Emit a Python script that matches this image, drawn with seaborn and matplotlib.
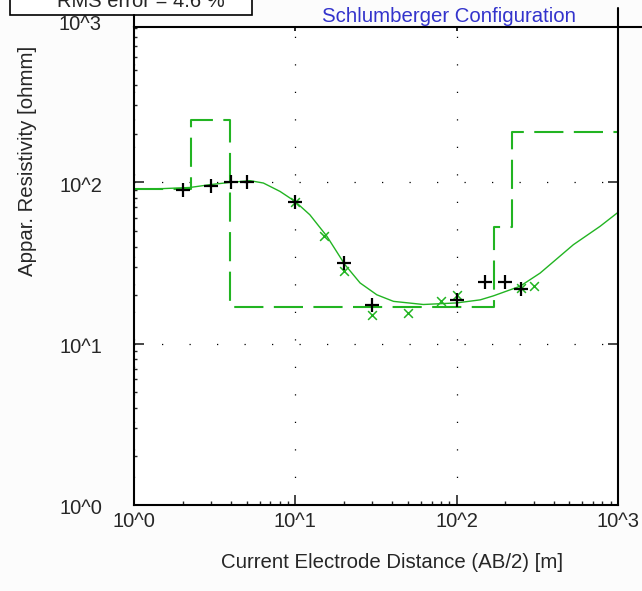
import numpy as np
import pandas as pd
import matplotlib
matplotlib.use("Agg")
import matplotlib.pyplot as plt
import seaborn as sns
from matplotlib.lines import Line2D
from matplotlib.patches import Rectangle
from matplotlib.ticker import LogLocator, NullFormatter
from matplotlib.transforms import ScaledTranslation

# measured data (AB/2 [m], apparent resistivity [ohmm])
obs_ab2 = [2, 3, 4, 5, 10, 20, 30, 100, 150, 200, 250]
obs_rho = [90, 95, 100, 100, 76, 31.7, 17.3, 18.7, 24.1, 24.1, 21.9]

calc_ab2 = [10, 15, 20, 30, 50, 80, 100, 250, 300]
calc_rho = [76, 46.7, 28.1, 15.1, 15.5, 18.3, 20.1, 22.2, 22.7]

# model response curve
curve_ab2 = [1, 1.5, 2.22, 3, 3.94, 5.24, 6.34, 8.04, 9.95, 12.3, 15.7, 20.3, 25.2,
             32.0, 40.6, 62.2, 100, 140, 169, 247, 329, 529, 774, 1000]
curve_rho = [91, 91.5, 93, 97, 100, 102.5, 99.1, 87.9, 76.3, 63.0, 46.3, 30.9, 23.8,
             20.1, 18.3, 17.5, 17.9, 18.7, 19.8, 22.7, 27.4, 41.1, 53.4, 65.2]

# layered model
layer_rho = [91, 245, 17.0, 52.6, 205]
layer_bounds = [2.26, 3.94, 171, 221]

xticks = [1, 10, 100, 1000]
xtick_labels = ["10^0", "10^1", "10^2", "10^3"]
yticks = [1, 10, 100]
ytick_labels = ["10^0", "10^1", "10^2"]

green = "#22b422"

sns.set_style("white")
plt.rcParams['font.family'] = ['Liberation Sans', 'DejaVu Sans']

W, H = 642, 591
fig = plt.figure(figsize=(W / 100, H / 100), dpi=100, facecolor="#fcfcfc")
ax = fig.add_axes([134 / W, 1 - 505 / H, (618 - 134) / W, (505 - 27) / H])
ax.set_facecolor("white")

# step model line
step_x, step_y = [1], [layer_rho[0]]
for b, r0, r1 in zip(layer_bounds, layer_rho[:-1], layer_rho[1:]):
    step_x += [b, b]
    step_y += [r0, r1]
step_x.append(1000)
step_y.append(layer_rho[-1])
model_df = pd.DataFrame({"ab2": step_x, "rho": step_y})

curve_df = pd.DataFrame({"ab2": curve_ab2, "rho": curve_rho})

sns.lineplot(data=curve_df, x="ab2", y="rho", ax=ax, color=green, linewidth=1.0,
             sort=False, estimator=None)
sns.lineplot(data=model_df, x="ab2", y="rho", ax=ax, color=green, linewidth=1.5,
             sort=False, estimator=None, linestyle=(0, (14, 5)))
sns.scatterplot(x=calc_ab2, y=calc_rho, ax=ax, marker="x", s=40, color=green,
                linewidth=1.1, zorder=4)
sns.scatterplot(x=obs_ab2, y=obs_rho, ax=ax, marker="+", s=90, color="black",
                linewidth=1.6, zorder=5)

ax.set_xscale("log")
ax.set_yscale("log")
ytop = 10 ** ((505 - 27) / 161.3)
ax.set_xlim(1, 1000)
ax.set_ylim(1, ytop)

ax.set_xticks(xticks)
ax.set_xticklabels(xtick_labels)
ax.set_yticks(yticks)
ax.set_yticklabels(ytick_labels)
ax.xaxis.set_minor_locator(LogLocator(base=10, subs=np.arange(2, 10)))
ax.yaxis.set_minor_locator(LogLocator(base=10, subs=np.arange(2, 10)))
ax.xaxis.set_minor_formatter(NullFormatter())
ax.yaxis.set_minor_formatter(NullFormatter())
ax.set_xlabel("")
ax.set_ylabel("")

ax.tick_params(axis="x", which="major", direction="in", length=7, width=1.2,
               bottom=True, top=False, labelsize=14.5, pad=5)
ax.tick_params(axis="x", which="minor", direction="in", length=3, width=1,
               bottom=True, top=False)
ax.tick_params(axis="y", which="major", direction="in", length=7, width=1.2,
               left=True, right=True, labelsize=14.5, pad=23)
ax.tick_params(axis="y", which="minor", direction="in", length=2.5, width=1,
               left=True, right=False)

# y labels sit a little below their ticks in the original
shift = ScaledTranslation(0, -2 / 100, fig.dpi_scale_trans)
for lab in ax.get_yticklabels():
    lab.set_transform(lab.get_transform() + shift)

# top ticks at the major positions
ax.plot(xticks[1:-1], [ytop] * 2, ls="none", marker=3, ms=3, mew=1.2,
        color="black", clip_on=False)

top_shift = ScaledTranslation(0, -3.5 / 100, fig.dpi_scale_trans)
ax.text(-32 / 484, 1000, "10^3", transform=ax.get_yaxis_transform() + top_shift,
        ha="right", va="center", fontsize=14.5, clip_on=False)

ax.grid(which="major", color="black", linestyle=(0, (1, 21)), linewidth=0.9)
for s in ax.spines.values():
    s.set_color("black")
    s.set_linewidth(1.5)

# frame extensions around the title area
fig.add_artist(Line2D([618 / W, 1], [1 - 27 / H] * 2, color="black", lw=1.5,
                      transform=fig.transFigure))
fig.add_artist(Line2D([134 / W] * 2, [1 - 27 / H, 1 - 15 / H], color="black",
                      lw=1.5, transform=fig.transFigure))
fig.add_artist(Line2D([618 / W] * 2, [1 - 27 / H, 1 - 8 / H], color="black",
                      lw=1.5, transform=fig.transFigure))

# legend box cut by the top edge
fig.add_artist(Rectangle((10 / W, 1 - 15 / H), 242 / W, 40 / H, fill=True,
                         facecolor="white", edgecolor="black", lw=1.2,
                         transform=fig.transFigure))
fig.text(57 / W, 1 - 7 / H, "RMS error = 4.6 %", fontsize=14.5, va="baseline")

fig.text(449 / W, 1 - 17 / H, "Schlumberger Configuration", ha="center",
         va="center", color="#3333cc", fontsize=14.7)
fig.text(392 / W, 1 - 563 / H, "Current Electrode Distance (AB/2) [m]",
         ha="center", va="center", fontsize=14.7)
fig.text(28 / W, 1 - 161 / H, "Appar. Resistivity [ohmm]", rotation=90,
         ha="center", va="center", fontsize=14.7)

fig.savefig("out.png", dpi=100, facecolor=fig.get_facecolor())
